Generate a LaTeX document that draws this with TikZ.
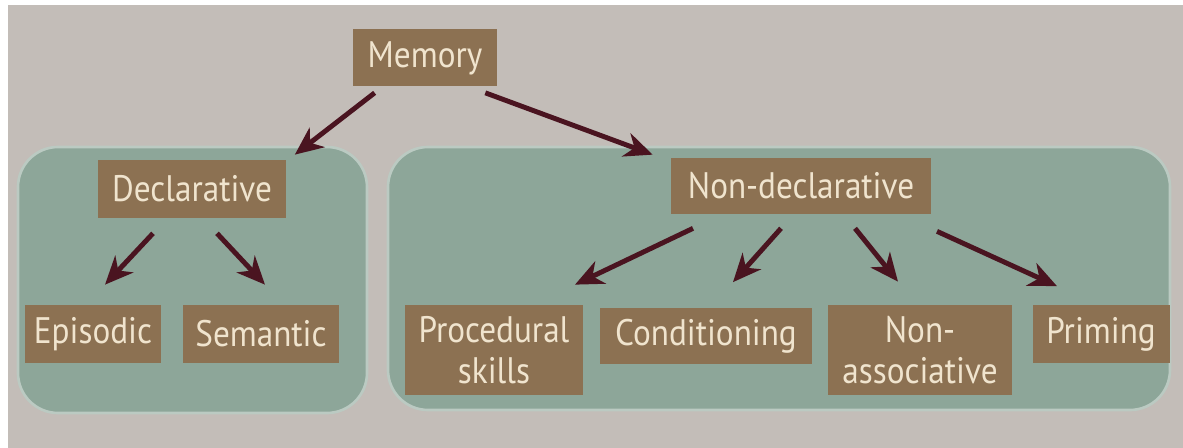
\documentclass[tikz,border=0pt]{standalone}
\usepackage{fontspec}
\setmainfont{PT Sans}[FakeStretch=0.9]
\usetikzlibrary{arrows.meta}
\definecolor{bgGray}{HTML}{C3BDB8}
\definecolor{panelTeal}{HTML}{8DA699}
\definecolor{boxBrown}{HTML}{8C7152}
\definecolor{boxText}{HTML}{F0E4CE}
\definecolor{arrowRed}{HTML}{4A1420}
\tikzset{
  catbox/.style={fill=boxBrown, text=boxText, inner sep=2pt, align=center,
    font=\fontsize{21}{23}\selectfont},
  panel/.style={fill=panelTeal, draw=panelTeal!60!white, line width=1.5pt, rounded corners=0.8cm},
  arr/.style={draw=arrowRed, line width=2.8pt, -{Stealth[length=16pt,width=14pt,inset=5pt]}}
}
\begin{document}
\begin{tikzpicture}[x=0.02cm,y=-0.02cm]
  \fill[white] (0,0) rectangle (1183,448);
  \fill[bgGray] (8,5) rectangle (1183,448);
  \useasboundingbox (0,0) rectangle (1183,448);
  % panels
  \path[panel] (18,147) rectangle (367,413);
  \path[panel] (388,147) rectangle (1170,410);
  % boxes
  \node[catbox, minimum width=2.88cm, minimum height=1.14cm] (mem) at (425,58) {Memory};
  \node[catbox, minimum width=3.78cm, minimum height=1.16cm] (decl) at (192,189) {Declarative};
  \node[catbox, minimum width=5.20cm, minimum height=1.12cm] (nd) at (801,186) {Non-declarative};
  \node[catbox, minimum width=2.74cm, minimum height=1.16cm] (epi) at (93,334) {Episodic};
  \node[catbox, minimum width=3.14cm, minimum height=1.16cm] (sem) at (261,334) {Semantic};
  \node[catbox, minimum width=3.58cm, minimum height=1.80cm] (proc) at (494,350) {Procedural\\skills};
  \node[catbox, minimum width=4.24cm, minimum height=1.14cm] (cond) at (706,336) {Conditioning};
  \node[catbox, minimum width=3.70cm, minimum height=1.80cm] (nassoc) at (920,350) {Non-\\associative};
  \node[catbox, minimum width=2.74cm, minimum height=1.18cm] (prim) at (1101,334) {Priming};
  % arrows
  \draw[arr] ([shift={(22,6)}]mem.south west) -- ([shift={(8,-5)}]decl.north east);
  \draw[arr] ([shift={(-12,6)}]mem.south east) -- ([shift={(-18,-3)}]nd.north west);
  \draw[arr] ([shift={(-39,15)}]decl.south) -- ([shift={(12,-20)}]epi.north);
  \draw[arr] ([shift={(25,15)}]decl.south) -- ([shift={(4,-20)}]sem.north);
  \draw[arr] ([shift={(-108,14)}]nd.south) -- ([shift={(81,-20)}]proc.north);
  \draw[arr] ([shift={(-20,14)}]nd.south) -- ([shift={(27,-25)}]cond.north);
  \draw[arr] ([shift={(54,14)}]nd.south) -- ([shift={(-22,-23)}]nassoc.north);
  \draw[arr] ([shift={(136,17)}]nd.south) -- ([shift={(-44,-18)}]prim.north);
\end{tikzpicture}
\end{document}
